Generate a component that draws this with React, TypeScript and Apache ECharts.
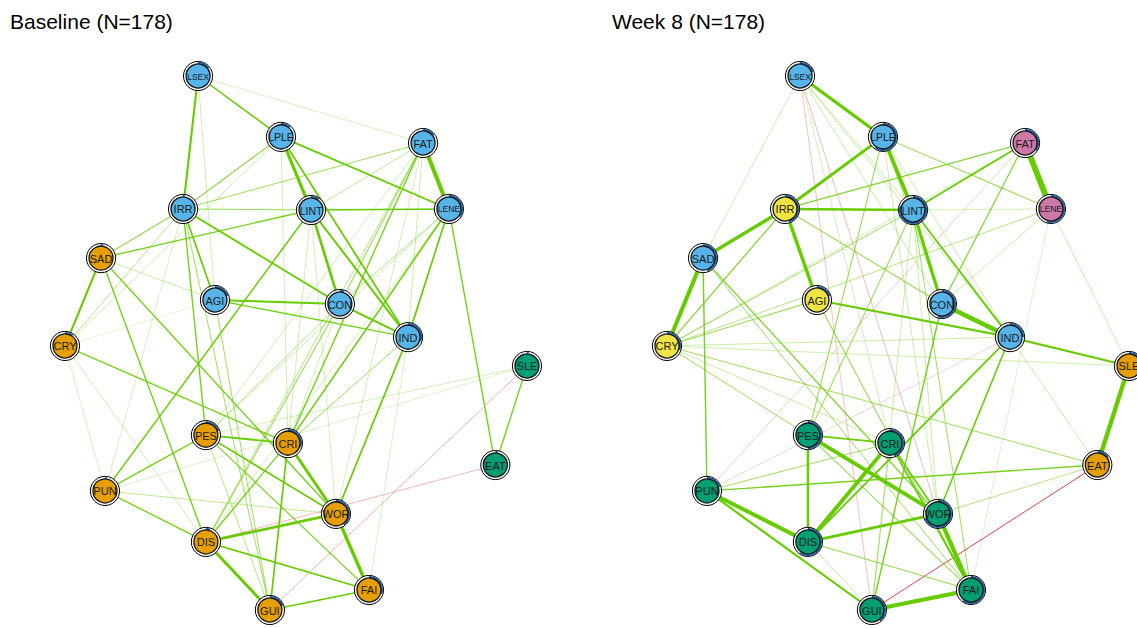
import React, { useEffect, useRef } from "react";
import * as echarts from "echarts";

// ---- Data ----
const nodeNames = ["LSEX", "LPLE", "FAT", "IRR", "LINT", "LENE", "SAD", "AGI", "CON", "IND", "CRY", "SLE", "PES", "CRI", "EAT", "PUN", "WOR", "DIS", "FAI", "GUI"];
// shared (averaged) layout, qgraph-style coordinates in [-1, 1]
const layoutX = [-0.424, -0.065, 0.55, -0.489, 0.065, 0.662, -0.844, -0.351, 0.19, 0.485, -1.0, 1.0, -0.39, -0.035, 0.863, -0.827, 0.173, -0.39, 0.316, -0.113];
const layoutY = [1.0, 0.772, 0.749, 0.502, 0.498, 0.502, 0.318, 0.161, 0.146, 0.022, -0.011, -0.086, -0.345, -0.375, -0.457, -0.554, -0.64, -0.745, -0.925, -1.0];

// community per node (colour group)
const baselineGroups = ["A", "A", "A", "A", "A", "A", "B", "A", "A", "A", "B", "C", "B", "B", "C", "B", "B", "B", "B", "B"];
const week8Groups = ["A", "A", "E", "D", "A", "E", "A", "D", "A", "A", "D", "B", "C", "C", "B", "C", "C", "C", "C", "C"];
const groupColors: Record<string, string> = { A: "#56B4E9", B: "#E69F00", C: "#009E73", D: "#F0E442", E: "#CC79A7" };

// predictability (pie ring)
const baselinePie = [0.15, 0.12, 0.15, 0.02, 0.1, 0.35, 0.02, 0.2, 0.05, 0.3, 0.1, 0.02, 0.2, 0.3, 0.03, 0.02, 0.4, 0.05, 0.3, 0.2];
const week8Pie = [0.2, 0.6, 0.35, 0.45, 0.8, 0.55, 0.45, 0.2, 0.55, 0.25, 0.3, 0.3, 0.5, 0.45, 0.15, 0.2, 0.7, 0.6, 0.6, 0.4];

// edges: [from, to, partial correlation]
const baselineEdges: [string, string, number][] = [
  ["LSEX", "IRR", 0.3], ["LSEX", "LPLE", 0.22], ["LSEX", "FAT", 0.07], ["LSEX", "AGI", 0.09],
  ["LPLE", "LINT", 0.45], ["LPLE", "IND", 0.26], ["LPLE", "LENE", 0.26], ["LPLE", "IRR", 0.16],
  ["LPLE", "CRY", 0.09], ["LPLE", "CRI", 0.09],
  ["FAT", "LENE", 0.58], ["FAT", "IRR", 0.14], ["FAT", "LINT", 0.11], ["FAT", "CON", 0.15],
  ["FAT", "IND", 0.1], ["FAT", "CRI", 0.2], ["FAT", "PES", 0.09], ["FAT", "WOR", 0.08], ["FAT", "DIS", 0.12],
  ["IRR", "LINT", 0.15], ["IRR", "SAD", 0.16], ["IRR", "CRY", 0.12], ["IRR", "AGI", 0.24],
  ["IRR", "CON", 0.26], ["IRR", "PES", 0.2], ["IRR", "GUI", 0.14], ["IRR", "PUN", 0.07],
  ["LINT", "LENE", 0.24], ["LINT", "CON", 0.38], ["LINT", "IND", 0.28], ["LINT", "SAD", 0.2],
  ["LINT", "PUN", 0.22], ["LINT", "CRI", 0.09], ["LINT", "WOR", 0.08],
  ["LENE", "CON", 0.12], ["LENE", "IND", 0.24], ["LENE", "EAT", 0.2], ["LENE", "CRI", 0.22],
  ["LENE", "PES", 0.09], ["LENE", "DIS", 0.08],
  ["SAD", "CRY", 0.3], ["SAD", "DIS", 0.2], ["SAD", "WOR", 0.2], ["SAD", "AGI", 0.1],
  ["AGI", "CON", 0.28], ["AGI", "IND", 0.2], ["AGI", "GUI", 0.14],
  ["CON", "IND", 0.28], ["CON", "DIS", 0.15], ["CON", "PES", 0.12], ["CON", "CRI", 0.08],
  ["IND", "WOR", 0.24], ["IND", "CRI", 0.14], ["IND", "FAI", 0.07],
  ["CRY", "CRI", 0.2], ["CRY", "PUN", 0.07], ["CRY", "DIS", 0.09], ["CRY", "AGI", 0.04],
  ["SLE", "EAT", 0.2], ["SLE", "PES", 0.08], ["SLE", "PUN", 0.06], ["SLE", "GUI", -0.08],
  ["EAT", "DIS", -0.07],
  ["PES", "CRI", 0.26], ["PES", "PUN", 0.2], ["PES", "WOR", 0.24], ["PES", "FAI", 0.18], ["PES", "GUI", 0.12],
  ["CRI", "WOR", 0.4], ["CRI", "GUI", 0.24], ["CRI", "DIS", 0.2],
  ["PUN", "DIS", 0.2], ["PUN", "WOR", 0.11],
  ["WOR", "DIS", 0.38], ["WOR", "FAI", 0.48], ["DIS", "GUI", 0.42], ["DIS", "FAI", 0.24], ["FAI", "GUI", 0.24],
];

const week8Edges: [string, string, number][] = [
  ["LSEX", "LPLE", 0.45], ["LSEX", "SAD", 0.09], ["LSEX", "LINT", 0.1], ["LSEX", "CON", 0.1],
  ["LSEX", "IND", 0.1], ["LSEX", "CRI", 0.08], ["LSEX", "WOR", -0.07], ["LSEX", "GUI", -0.06],
  ["LPLE", "IRR", 0.42], ["LPLE", "LINT", 0.55], ["LPLE", "LENE", 0.15], ["LPLE", "PES", 0.15],
  ["LPLE", "CON", 0.12], ["LPLE", "IND", 0.1], ["LPLE", "WOR", 0.1],
  ["FAT", "LENE", 0.85], ["FAT", "IRR", 0.18], ["FAT", "LINT", 0.24], ["FAT", "CON", 0.18],
  ["FAT", "PUN", -0.05], ["FAT", "CRY", 0.08],
  ["IRR", "LINT", 0.38], ["IRR", "SAD", 0.48], ["IRR", "AGI", 0.5], ["IRR", "CRY", 0.18], ["IRR", "CON", 0.15],
  ["LINT", "CON", 0.45], ["LINT", "IND", 0.25], ["LINT", "LENE", 0.08], ["LINT", "CRY", 0.14],
  ["LINT", "PES", 0.15], ["LINT", "WOR", 0.1], ["LINT", "FAI", 0.14], ["LINT", "GUI", 0.1],
  ["LENE", "CRY", 0.12], ["LENE", "SLE", 0.1], ["LENE", "CON", 0.1], ["LENE", "FAI", 0.06],
  ["SAD", "CRY", 0.58], ["SAD", "PUN", 0.2], ["SAD", "WOR", 0.18], ["SAD", "FAI", 0.14],
  ["AGI", "IND", 0.3], ["AGI", "CRY", 0.15], ["AGI", "FAI", 0.15],
  ["CON", "IND", 0.65], ["CON", "GUI", 0.2],
  ["IND", "SLE", 0.3], ["IND", "CRY", 0.1], ["IND", "DIS", 0.25], ["IND", "WOR", 0.22], ["IND", "EAT", 0.1], ["IND", "PUN", -0.04],
  ["CRY", "PES", 0.14], ["CRY", "CRI", 0.1], ["CRY", "EAT", 0.14], ["CRY", "SLE", 0.09],
  ["PES", "DIS", 0.35], ["PES", "CRI", 0.22], ["PES", "WOR", 0.55], ["PES", "FAI", 0.15],
  ["CRI", "DIS", 0.55], ["CRI", "WOR", 0.25], ["CRI", "FAI", 0.25], ["CRI", "GUI", 0.12], ["CRI", "PUN", 0.14],
  ["PUN", "DIS", 0.55], ["PUN", "GUI", 0.3], ["PUN", "EAT", 0.2],
  ["WOR", "DIS", 0.4], ["WOR", "FAI", 0.6], ["WOR", "EAT", 0.12],
  ["DIS", "FAI", 0.15], ["DIS", "GUI", 0.1], ["FAI", "GUI", 0.6],
  ["EAT", "SLE", 0.62], ["EAT", "GUI", -0.14],
];

const panelTitles = ["Baseline (N=178)", "Week 8 (N=178)"];

// ---- helpers ----
const idx = (n: string) => nodeNames.indexOf(n);

function edgeData(edges: [string, string, number][]) {
  return edges
    .slice()
    .sort((a, b) => Math.abs(a[2]) - Math.abs(b[2]))
    .map(([a, b, w]) => [layoutX[idx(a)], layoutY[idx(a)], layoutX[idx(b)], layoutY[idx(b)], w]);
}

function nodeData(pie: number[]) {
  return nodeNames.map((_, i) => [layoutX[i], layoutY[i], pie[i]]);
}

const edgeRender = (params: any, api: any) => {
  const p1 = api.coord([api.value(0), api.value(1)]);
  const p2 = api.coord([api.value(2), api.value(3)]);
  const w = api.value(4);
  const a = Math.abs(w);
  const color =
    w >= 0
      ? `rgba(102,204,0,${Math.min(1, 0.1 + a * 4)})`
      : `rgba(214,40,40,${Math.min(0.95, 0.05 + a * 6)})`;
  return {
    type: "line",
    silent: true,
    shape: { x1: p1[0], y1: p1[1], x2: p2[0], y2: p2[1] },
    style: { stroke: color, lineWidth: Math.max(0.7, a * 7) },
  };
};

const makeNodeRender = (groups: string[]) => (params: any, api: any) => {
  const p = api.coord([api.value(0), api.value(1)]);
  const frac = api.value(2);
  const name = nodeNames[params.dataIndex];
  const fs = name === "LSEX" || name === "LENE" ? 8.5 : name.length === 4 ? 10.5 : 11;
  const start = -Math.PI / 2;
  return {
    type: "group",
    children: [
      { type: "circle", shape: { cx: p[0], cy: p[1], r: 14.6 }, style: { fill: "#fff", stroke: "#000", lineWidth: 1 } },
      {
        type: "sector",
        shape: { cx: p[0], cy: p[1], r0: 12, r: 14.2, startAngle: start, endAngle: start + frac * Math.PI * 2, clockwise: true },
        style: { fill: "#2B64A0" },
      },
      { type: "circle", shape: { cx: p[0], cy: p[1], r: 12 }, style: { fill: groupColors[groups[params.dataIndex]], stroke: "#111", lineWidth: 1.3 } },
      {
        type: "text",
        x: p[0],
        y: p[1] + 0.5,
        style: { text: name, fill: "#1a1a1a", fontSize: fs, fontFamily: "Liberation Sans, Arial, sans-serif", align: "center", verticalAlign: "middle" },
      },
    ],
  };
};

export default function App() {
  const ref = useRef<HTMLDivElement>(null);
  useEffect(() => {
    if (!ref.current) return;
    const chart = echarts.init(ref.current, undefined, { renderer: "svg" });
    const gridLefts = [65, 667];
    const axisBase = { type: "value", min: -1, max: 1, show: false };
    chart.setOption({
      animation: false,
      backgroundColor: "#fff",
      title: panelTitles.map((t, i) => ({
        text: t,
        left: i === 0 ? 5 : 607,
        top: 6,
        textStyle: { fontSize: 21, fontWeight: "normal", color: "#000", fontFamily: "Liberation Sans, Arial, sans-serif" },
      })),
      grid: gridLefts.map((l) => ({ left: l, top: 76, width: 462, height: 534 })),
      xAxis: gridLefts.map((_, i) => ({ ...axisBase, gridIndex: i })),
      yAxis: gridLefts.map((_, i) => ({ ...axisBase, gridIndex: i })),
      series: [
        { type: "custom", xAxisIndex: 0, yAxisIndex: 0, clip: false, z: 1, data: edgeData(baselineEdges), renderItem: edgeRender, silent: true },
        { type: "custom", xAxisIndex: 0, yAxisIndex: 0, clip: false, z: 2, data: nodeData(baselinePie), renderItem: makeNodeRender(baselineGroups), silent: true },
        { type: "custom", xAxisIndex: 1, yAxisIndex: 1, clip: false, z: 1, data: edgeData(week8Edges), renderItem: edgeRender, silent: true },
        { type: "custom", xAxisIndex: 1, yAxisIndex: 1, clip: false, z: 2, data: nodeData(week8Pie), renderItem: makeNodeRender(week8Groups), silent: true },
      ],
    });
    return () => chart.dispose();
  }, []);
  return <div ref={ref} style={{ position: "fixed", left: 0, top: 0, width: 1137, height: 628 }} />;
}
